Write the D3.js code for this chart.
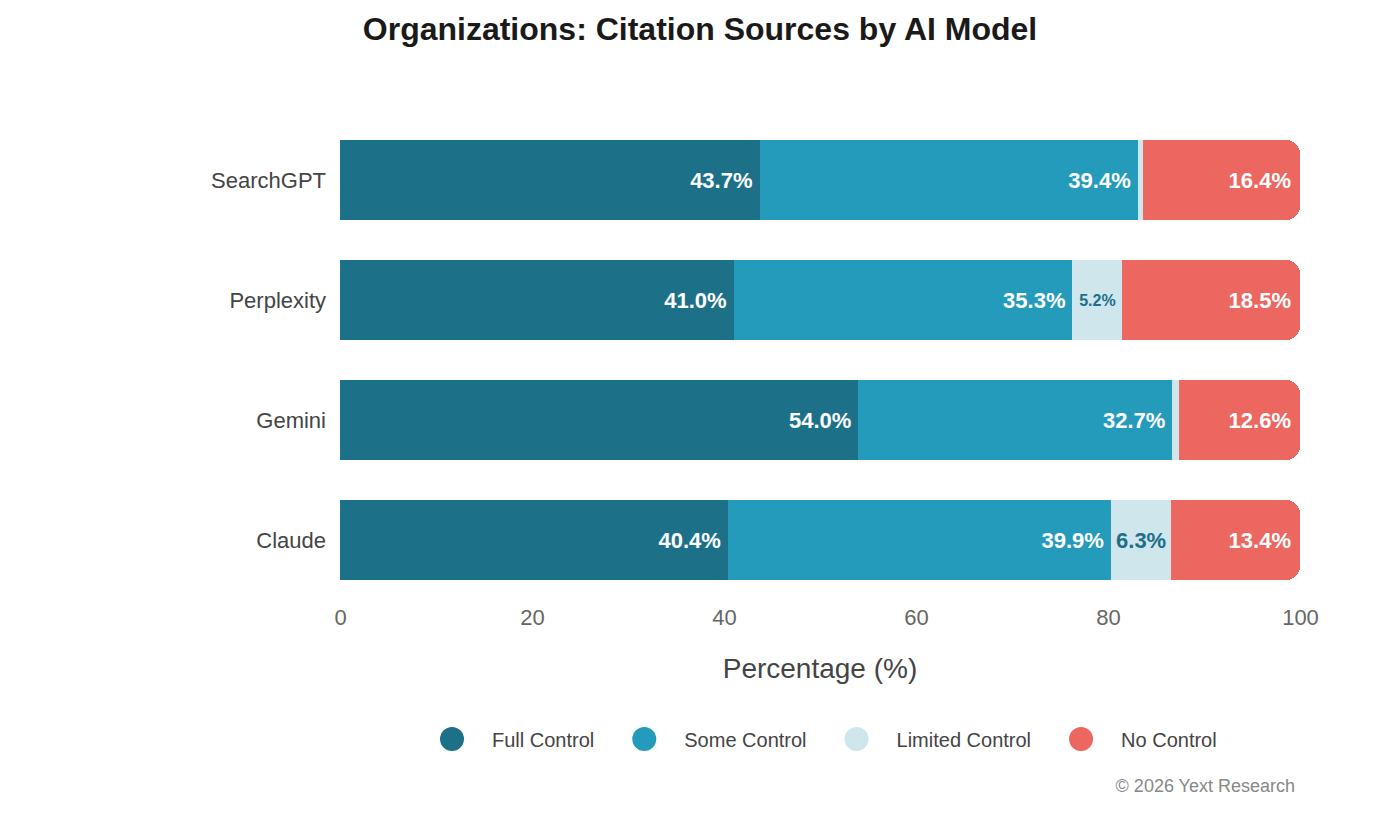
<!DOCTYPE html>
<html>
<head>
<meta charset="utf-8">
<script src="https://cdn.jsdelivr.net/npm/d3@7"></script>
<style>
  body { margin: 0; background: #fff; }
  svg { font-family: "Liberation Sans", Arial, sans-serif; }
</style>
</head>
<body>
<svg id="chart" width="1400" height="820"></svg>
<script>
const models = ['SearchGPT', 'Perplexity', 'Gemini', 'Claude'];
const seriesNames = ['Full Control', 'Some Control', 'Limited Control', 'No Control'];
const fullControl = [43.7, 41.0, 54.0, 40.4];
const someControl = [39.4, 35.3, 32.7, 39.9];
const limitedControl = [0.5, 5.2, 0.7, 6.3];
const noControl = [16.4, 18.5, 12.6, 13.4];
const colors = ['#1c7189', '#259bbb', '#cfe6ed', '#ec6760'];
const xTicks = [0, 20, 40, 60, 80, 100];

const svg = d3.select('#chart');

const rows = models.map((m, i) => ({
    model: m,
    values: [fullControl[i], someControl[i], limitedControl[i], noControl[i]]
}));

const xScale = d3.scaleLinear().domain([0, 100]).range([340, 1300]);
const yScale = d3.scaleBand().domain(models).range([120, 600]).paddingInner(1 / 3).paddingOuter(1 / 6);

// title
svg.append('text')
    .attr('x', 700).attr('y', 40)
    .attr('text-anchor', 'middle')
    .attr('font-size', 32).attr('font-weight', 'bold')
    .attr('fill', '#1a1a1a')
    .text('Organizations: Citation Sources by AI Model');

// bars
const r = 14;
rows.forEach(row => {
    const y0 = yScale(row.model);
    const h = yScale.bandwidth();
    let acc = 0;
    const g = svg.append('g');
    row.values.forEach((v, j) => {
        const x0 = xScale(acc);
        const x1 = xScale(acc + v);
        acc += v;
        if (j === row.values.length - 1) {
            // last one gets the rounded right end
            const x1r = xScale(100);
            const p = d3.path();
            p.moveTo(x0, y0);
            p.lineTo(x1r - r, y0);
            p.arcTo(x1r, y0, x1r, y0 + r, r);
            p.lineTo(x1r, y0 + h - r);
            p.arcTo(x1r, y0 + h, x1r - r, y0 + h, r);
            p.lineTo(x0, y0 + h);
            p.closePath();
            g.append('path').attr('d', p.toString()).attr('fill', colors[j])
                .attr('shape-rendering', 'crispEdges');
        } else {
            g.append('rect')
                .attr('x', x0).attr('y', y0)
                .attr('width', x1 - x0).attr('height', h)
                .attr('fill', colors[j])
                .attr('shape-rendering', 'crispEdges');
        }
        const w = x1 - x0;
        if (v >= 3) {
            const small = w < 55;
            g.append('text')
                .attr('x', j === 2 ? (x0 + x1) / 2 : (j === 3 ? xScale(100) - 9 : x1 - 7))
                .attr('y', y0 + h / 2)
                .attr('dy', '0.35em')
                .attr('text-anchor', j === 2 ? 'middle' : 'end')
                .attr('font-size', small ? 16 : 22)
                .attr('font-weight', 'bold')
                .attr('fill', j === 2 ? '#1c6f88' : '#fff')
                .text(v.toFixed(1) + '%');
        }
    });
    svg.append('text')
        .attr('x', 326).attr('y', y0 + h / 2)
        .attr('dy', '0.35em')
        .attr('text-anchor', 'end')
        .attr('font-size', 22)
        .attr('fill', '#444')
        .text(row.model);
});

// x axis
const xAxis = d3.axisBottom(xScale).tickValues(xTicks).tickSize(0).tickPadding(0);
const ax = svg.append('g').attr('transform', 'translate(0,609)').call(xAxis);
ax.select('.domain').remove();
ax.selectAll('text')
    .attr('font-size', 22)
    .attr('font-family', '"Liberation Sans", Arial, sans-serif')
    .attr('fill', '#666');

svg.append('text')
    .attr('x', 820).attr('y', 678)
    .attr('text-anchor', 'middle')
    .attr('font-size', 28)
    .attr('fill', '#444')
    .text('Percentage (%)');

// legend
const legend = svg.append('g');
let cx = 452;
seriesNames.forEach((name, i) => {
    legend.append('circle')
        .attr('cx', cx).attr('cy', 739).attr('r', 12)
        .attr('fill', colors[i]);
    const t = legend.append('text')
        .attr('x', cx + 40).attr('y', 740)
        .attr('dy', '0.35em')
        .attr('font-size', 20)
        .attr('fill', '#444')
        .text(name);
    cx = cx + 40 + t.node().getComputedTextLength() + 50;
});

svg.append('text')
    .attr('x', 1295).attr('y', 792)
    .attr('text-anchor', 'end')
    .attr('font-size', 18)
    .attr('fill', '#888')
    .text('\u00a9 2026 Yext Research');
</script>
</body>
</html>
